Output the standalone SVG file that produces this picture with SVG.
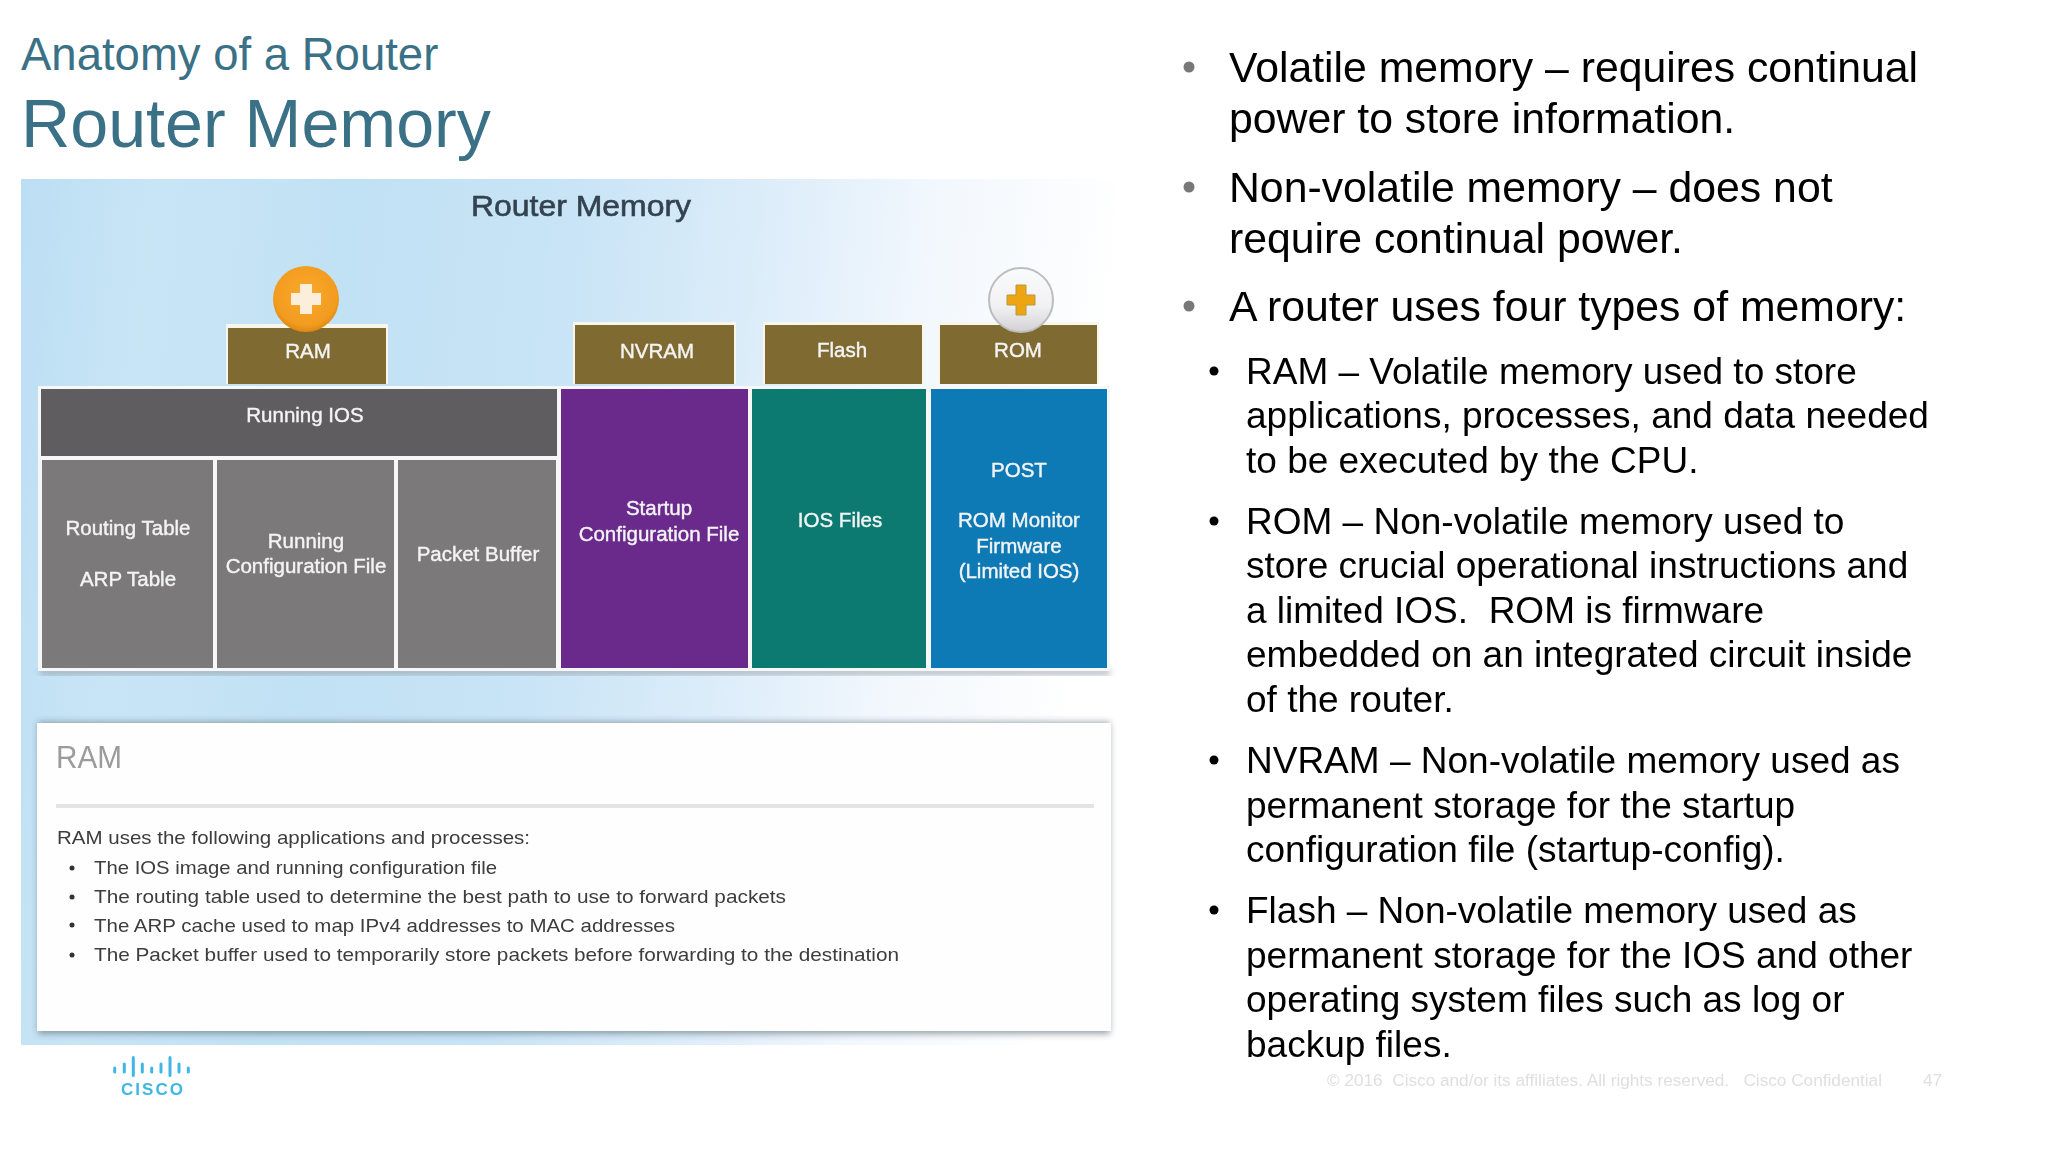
<svg xmlns="http://www.w3.org/2000/svg" width="2048" height="1152" viewBox="0 0 2048 1152">
<style>
text{font-family:"Liberation Sans",Arial,sans-serif}
.t1{fill:#3a7186;font-size:45.5px}
.t2{fill:#3a7186;font-size:68.2px}
.b1{fill:#000;font-size:42.75px}
.b2{fill:#000;font-size:37px}
.w{fill:#f4f4f4;font-size:20.5px;text-anchor:middle;stroke:#f4f4f4;stroke-width:.4}
.tab{fill:#7f6b33}
.p{fill:#3c3c3c;font-size:18.6px}
.dot{fill:#77787a}
.sd{fill:#000}
.bar{stroke:#3fb6e3;stroke-width:3;stroke-linecap:round}
</style>
<defs>
<linearGradient id="bg" x1="0" y1="0" x2="1" y2="0.08">
<stop offset="0" stop-color="#bcdef3"/><stop offset=".12" stop-color="#c8e5f6"/><stop offset=".3" stop-color="#c1e1f4"/><stop offset=".5" stop-color="#c8e4f6"/><stop offset=".7" stop-color="#dfeefa"/><stop offset=".84" stop-color="#f3f8fd"/><stop offset=".97" stop-color="#fcfdfe"/><stop offset="1" stop-color="#fff"/>
</linearGradient>
<radialGradient id="or" cx=".5" cy=".42" r=".6"><stop offset="0" stop-color="#f9aa2c"/><stop offset=".8" stop-color="#f29b1f"/><stop offset="1" stop-color="#d98412"/></radialGradient>
<linearGradient id="wh" x1="0" y1="0" x2="0" y2="1"><stop offset="0" stop-color="#fafbfc"/><stop offset=".6" stop-color="#f1f1f3"/><stop offset="1" stop-color="#d2d0d3"/></linearGradient>
<filter id="soft" x="-5%" y="-5%" width="110%" height="110%"><feGaussianBlur stdDeviation=".6"/></filter>
<filter id="sh" x="-3%" y="-5%" width="106%" height="110%"><feGaussianBlur stdDeviation="3"/></filter>
</defs>
<rect width="2048" height="1152" fill="#fff"/>
<g id="title">
<text class="t1" x="21" y="70">Anatomy of a Router</text>
<text class="t2" x="21" y="147">Router Memory</text>
</g>
<g id="figure">
<rect x="21" y="179" width="1097" height="866" fill="url(#bg)"/>
<g filter="url(#soft)">
<text x="581" y="216" text-anchor="middle" font-size="30" fill="#34424f" stroke="#34424f" stroke-width=".6" textLength="220" lengthAdjust="spacingAndGlyphs">Router Memory</text>
<rect x="40" y="669" width="1070" height="6" fill="#8f9aa2" opacity=".7" filter="url(#sh)"/>
<rect x="38" y="386" width="1072" height="285" fill="#f7f7f7"/>
<g id="tab-ram"><rect x="226" y="324" width="162" height="60" fill="#f8f6ea"/><rect class="tab" x="228" y="328" width="158" height="56"/><text class="w" x="308" y="358">RAM</text></g>
<g id="tab-nvram"><rect x="573" y="322" width="163" height="62" fill="#f8f6ea"/><rect class="tab" x="575" y="325" width="159" height="59"/><text class="w" x="657" y="358">NVRAM</text></g>
<g id="tab-flash"><rect x="763" y="322" width="161" height="62" fill="#f8f6ea"/><rect class="tab" x="765" y="325" width="157" height="59"/><text class="w" x="842" y="357">Flash</text></g>
<g id="tab-rom"><rect x="938" y="322" width="161" height="62" fill="#f8f6ea"/><rect class="tab" x="940" y="325" width="157" height="59"/><text class="w" x="1018" y="357">ROM</text></g>
<g id="running-ios"><rect x="41" y="389" width="516" height="67" fill="#5f5d5e"/><text class="w" x="305" y="422">Running IOS</text></g>
<g id="routing-table"><rect x="42" y="460" width="171" height="208" fill="#7b797a"/><text class="w" x="128" y="535">Routing Table</text><text class="w" x="128" y="586">ARP Table</text></g>
<g id="running-config"><rect x="217" y="460" width="177" height="208" fill="#7b797a"/><text class="w" x="306" y="548">Running</text><text class="w" x="306" y="573">Configuration File</text></g>
<g id="packet-buffer"><rect x="398" y="460" width="158" height="208" fill="#7b797a"/><text class="w" x="478" y="561">Packet Buffer</text></g>
<g id="startup-config"><rect x="561" y="389" width="187" height="279" fill="#6a2a8c"/><text class="w" x="659" y="515">Startup</text><text class="w" x="659" y="541">Configuration File</text></g>
<g id="ios-files"><rect x="752" y="389" width="174" height="279" fill="#0a7a72"/><text class="w" x="840" y="527">IOS Files</text></g>
<g id="rom-box"><rect x="931" y="389" width="176" height="279" fill="#0d7ab5"/><text class="w" x="1019" y="477">POST</text><text class="w" x="1019" y="527">ROM Monitor</text><text class="w" x="1019" y="553">Firmware</text><text class="w" x="1019" y="578">(Limited IOS)</text></g>
<g id="plus-ram"><circle cx="306" cy="299" r="33" fill="url(#or)"/><path d="M300 284h12v9h9v12h-9v9h-12v-9h-9v-12h9z" fill="#fbeedb"/></g>
<g id="plus-rom"><circle cx="1021" cy="300" r="32" fill="url(#wh)" stroke="#bdbdbd" stroke-width="2"/><path d="M1016 285h10v10h9v10h-9v10h-10v-10h-9v-10h9z" fill="#eda515" stroke="#b59a3c" stroke-width="1"/></g>
<rect x="38" y="722" width="1072" height="312" fill="#5c6a74" opacity=".6" filter="url(#sh)"/>
<g id="ram-panel">
<rect x="37" y="723" width="1074" height="308" fill="#fefefe"/>
<text x="56" y="768" font-size="31" fill="#9b9b9b" textLength="66" lengthAdjust="spacingAndGlyphs">RAM</text>
<rect x="56" y="804" width="1038" height="4" fill="#e4e4e4"/>
<text class="p" x="57" y="844" textLength="473" lengthAdjust="spacingAndGlyphs">RAM uses the following applications and processes:</text>
<circle cx="72" cy="868" r="2.5" fill="#333"/><text class="p" x="94" y="874" textLength="403" lengthAdjust="spacingAndGlyphs">The IOS image and running configuration file</text>
<circle cx="72" cy="897" r="2.5" fill="#333"/><text class="p" x="94" y="903" textLength="692" lengthAdjust="spacingAndGlyphs">The routing table used to determine the best path to use to forward packets</text>
<circle cx="72" cy="925" r="2.5" fill="#333"/><text class="p" x="94" y="932" textLength="581" lengthAdjust="spacingAndGlyphs">The ARP cache used to map IPv4 addresses to MAC addresses</text>
<circle cx="72" cy="955" r="2.5" fill="#333"/><text class="p" x="94" y="961" textLength="805" lengthAdjust="spacingAndGlyphs">The Packet buffer used to temporarily store packets before forwarding to the destination</text>
</g>
</g>
</g>
<g id="cisco-logo">
<path class="bar" d="M114.700 1068v4M124.300 1064v8M133.300 1057.500v18M142.300 1064v8M151.700 1068v4M161 1064v8M170 1057.500v18M179 1064v8M188.300 1068v4" fill="none"/>
<text x="152" y="1095" text-anchor="middle" font-size="17" font-weight="bold" fill="#3fb6e3" textLength="62" lengthAdjust="spacing">CISCO</text>
</g>
<g id="bullets">
<circle class="dot" cx="1189" cy="67" r="5.5"/><circle class="dot" cx="1189" cy="187" r="5.5"/><circle class="dot" cx="1189" cy="306" r="5.5"/>
<text class="b1" x="1229" y="82">Volatile memory – requires continual</text>
<text class="b1" x="1229" y="133">power to store information.</text>
<text class="b1" x="1229" y="202">Non-volatile memory – does not</text>
<text class="b1" x="1229" y="253">require continual power.</text>
<text class="b1" x="1229" y="321">A router uses four types of memory:</text>
<circle class="sd" cx="1214" cy="371" r="4.5"/><circle class="sd" cx="1214" cy="521" r="4.5"/><circle class="sd" cx="1214" cy="760" r="4.5"/><circle class="sd" cx="1214" cy="910" r="4.5"/>
<text class="b2" x="1246" y="384">RAM – Volatile memory used to store</text>
<text class="b2" x="1246" y="428">applications, processes, and data needed</text>
<text class="b2" x="1246" y="473">to be executed by the CPU.</text>
<text class="b2" x="1246" y="534">ROM – Non-volatile memory used to</text>
<text class="b2" x="1246" y="578">store crucial operational instructions and</text>
<text class="b2" x="1246" y="623" xml:space="preserve">a limited IOS.  ROM is firmware</text>
<text class="b2" x="1246" y="667">embedded on an integrated circuit inside</text>
<text class="b2" x="1246" y="712">of the router.</text>
<text class="b2" x="1246" y="773">NVRAM – Non-volatile memory used as</text>
<text class="b2" x="1246" y="818">permanent storage for the startup</text>
<text class="b2" x="1246" y="862">configuration file (startup-config).</text>
<text class="b2" x="1246" y="923">Flash – Non-volatile memory used as</text>
<text class="b2" x="1246" y="968">permanent storage for the IOS and other</text>
<text class="b2" x="1246" y="1012">operating system files such as log or</text>
<text class="b2" x="1246" y="1057">backup files.</text>
</g>
<g id="footer" fill="#dfdfdf" font-size="17.2">
<text x="1327" y="1086" xml:space="preserve">© 2016  Cisco and/or its affiliates. All rights reserved.   Cisco Confidential</text>
<text x="1923" y="1086">47</text>
</g>
</svg>
